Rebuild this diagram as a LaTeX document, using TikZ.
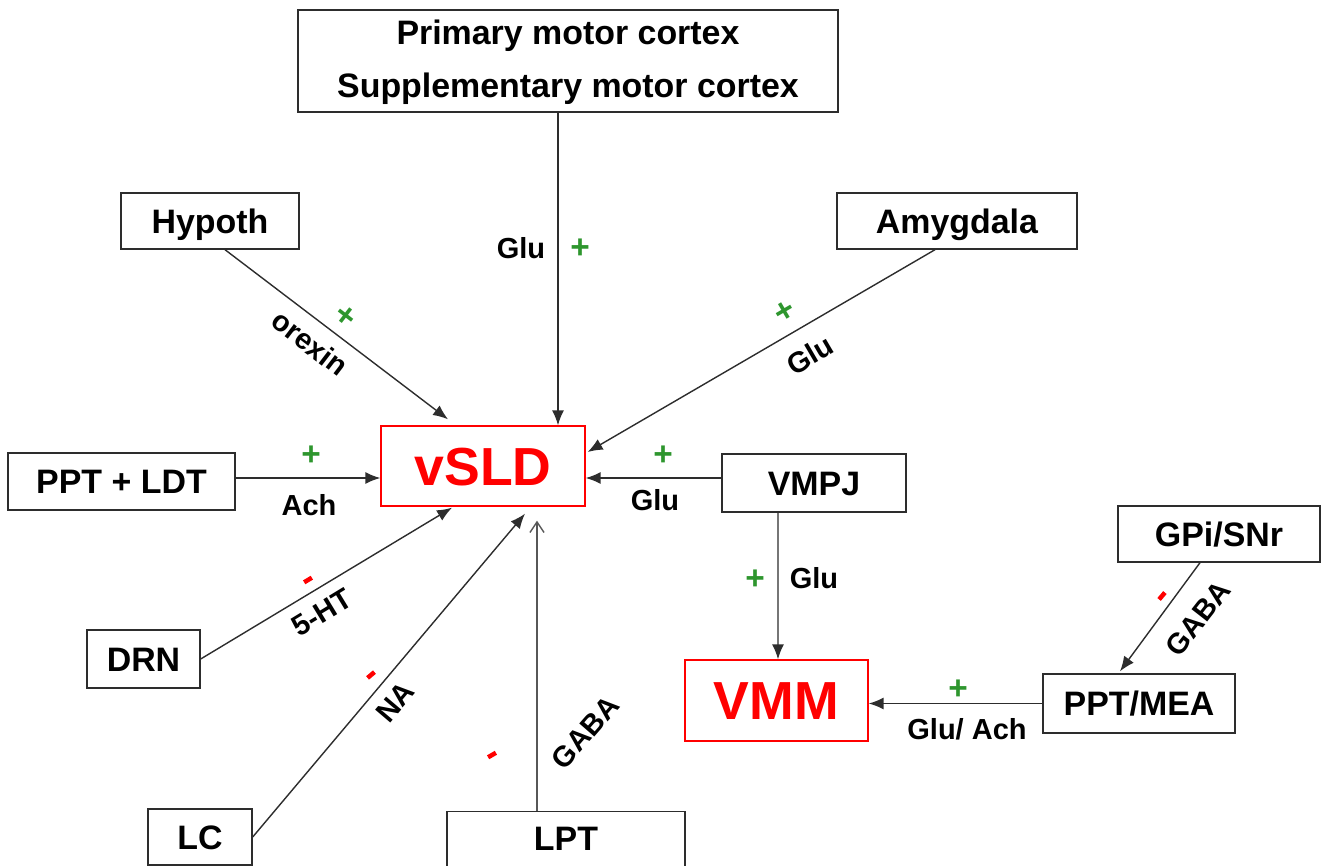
\documentclass[tikz,border=0pt]{standalone}
\usepackage{fontspec}
\setmainfont{Liberation Sans}
\usetikzlibrary{arrows.meta,calc}
\definecolor{plusgreen}{RGB}{46,150,46}
\definecolor{linegray}{RGB}{45,45,45}
\tikzset{
  box/.style={draw=linegray, line width=0.8pt, fill=white, inner sep=0pt,
    font=\fontsize{19.3}{23}\selectfont\bfseries, align=center,
    text height=13.8pt, text depth=0pt},
  redbox/.style={draw=red, line width=0.8pt, fill=white, inner sep=0pt,
    text=red, font=\fontsize{30.5}{36}\selectfont\bfseries,
    text height=21.8pt, text depth=0pt},
  arr/.style={draw=linegray, line width=0.8pt, -{Latex[length=8.5pt,width=6.8pt]}},
  openarr/.style={draw=linegray!80, line width=0.8pt, -{Straight Barb[length=6pt,width=8pt]}},
  lab/.style={font=\fontsize{16.5}{20}\selectfont\bfseries, inner sep=0pt,
    text height=11.8pt, text depth=0pt},
  bigtext/.style={font=\fontsize{19.3}{23}\selectfont\bfseries, inner sep=0pt,
    text height=13.8pt, text depth=0pt},
  plussign/.style={font=\fontsize{19}{22}\selectfont\bfseries, text=plusgreen, inner sep=0pt},
  minussign/.style={fill=red, inner sep=0pt, minimum width=0.18cm, minimum height=0.09cm},
}
\begin{document}
\begin{tikzpicture}[x=0.02cm,y=-0.02cm]
\useasboundingbox (0,0) rectangle (1323,866);
\clip (0,0) rectangle (1323,866);

% regions
\node[box, minimum width=10.8cm, minimum height=2.04cm] (motor) at (568,61) {};
\node[bigtext] (motor1) at (568,32) {Primary motor cortex};
\node[bigtext] (motor2) at (568,85) {Supplementary motor cortex};
\node[box, minimum width=3.56cm, minimum height=1.12cm] (hypoth) at (210,221) {Hypoth};
\node[box, minimum width=4.8cm, minimum height=1.12cm] (amyg) at (957,221) {Amygdala};
\node[redbox, minimum width=4.08cm, minimum height=1.6cm] (vsld) at (483,466) {vSLD};
\node[box, minimum width=4.54cm, minimum height=1.14cm] (pptldt) at (121.5,481.5) {PPT + LDT};
\node[box, minimum width=3.68cm, minimum height=1.16cm] (vmpj) at (814,483) {VMPJ};
\node[box, minimum width=4.04cm, minimum height=1.12cm] (gpi) at (1219,534) {GPi/SNr};
\node[box, minimum width=2.26cm, minimum height=1.16cm] (drn) at (143.5,659) {DRN};
\node[redbox, minimum width=3.66cm, minimum height=1.62cm] (vmm) at (776.5,700.5) {VMM};
\node[box, minimum width=3.84cm, minimum height=1.18cm] (pptmea) at (1139,703.5) {PPT/MEA};
\node[box, minimum width=2.08cm, minimum height=1.12cm] (lc) at (200,837) {LC};
\node[box, minimum width=4.76cm, minimum height=1.3cm] (lpt) at (566,844) {};
\node[bigtext] (lpttext) at (566,838) {LPT};

% projections onto vSLD
\draw[arr] ($(motor.south)+(-10,0)$) -- ($(vsld.north)+(75,0)$);
\draw[arr] ($(hypoth.south)+(15,0)$) -- ($(vsld.north)+(-35,-6)$);
\draw[arr] ($(amyg.south)+(-22,0)$) -- ($(vsld.east)+(2,-14)$);
\draw[arr] ($(pptldt.east)+(0,-3.5)$) -- ($(vsld.west)+(0,12)$);
\draw[arr] ($(vmpj.west)+(0,-5)$) -- ($(vsld.east)+(0,12)$);
\draw[arr] (drn.east) -- ($(vsld.south)+(-31,1)$);
\draw[arr] (lc.east) -- ($(vsld.south)+(42,7)$);
\draw[openarr] ($(lpt.north)+(-29,0)$) -- ($(vsld.south)+(54,14)$);

% projections onto VMM
\draw[arr] ($(vmpj.south)+(-36,0)$) -- ($(vmm.north)+(1.5,0)$);
\draw[arr] ($(gpi.south)+(-19,0)$) -- ($(pptmea.north)+(-19,-2)$);
\draw[arr] (pptmea.west) -- (pptmea.west -| vmm.east);

% transmitter labels and signs
\node[lab] (l1) at (521,248) {Glu};
\node[plussign] (s1) at (580,249) {+};
\node[lab, rotate=-37.5] (l2) at (310,343) {orexin};
\node[plussign, rotate=-37.5] (s2) at (345,317) {+};
\node[lab, rotate=30.3] (l3) at (810,355) {Glu};
\node[plussign, rotate=30.3] (s3) at (785,312) {+};
\node[plussign] (s4) at (311,456) {+};
\node[lab] (l4) at (309,505) {Ach};
\node[plussign] (s5) at (663,456) {+};
\node[lab] (l5) at (655,500) {Glu};
\node[lab, rotate=31.3] (l6) at (322,612) {5-HT};
\node[minussign, rotate=31] (s6) at (308,580) {};
\node[lab, rotate=49.6] (l7) at (395,702) {NA};
\node[minussign, rotate=40] (s7) at (371,675) {};
\node[lab, rotate=49] (l8) at (585,732) {GABA};
\node[minussign, rotate=30] (s8) at (492,755) {};
\node[plussign] (s9) at (755,580) {+};
\node[lab] (l9) at (814,578) {Glu};
\node[lab, rotate=52] (l10) at (1198,618) {GABA};
\node[minussign, rotate=50] (s10) at (1162,596) {};
\node[plussign] (s11) at (958,690) {+};
\node[lab] (l11) at (967,729) {Glu/ Ach};
\end{tikzpicture}
\end{document}
